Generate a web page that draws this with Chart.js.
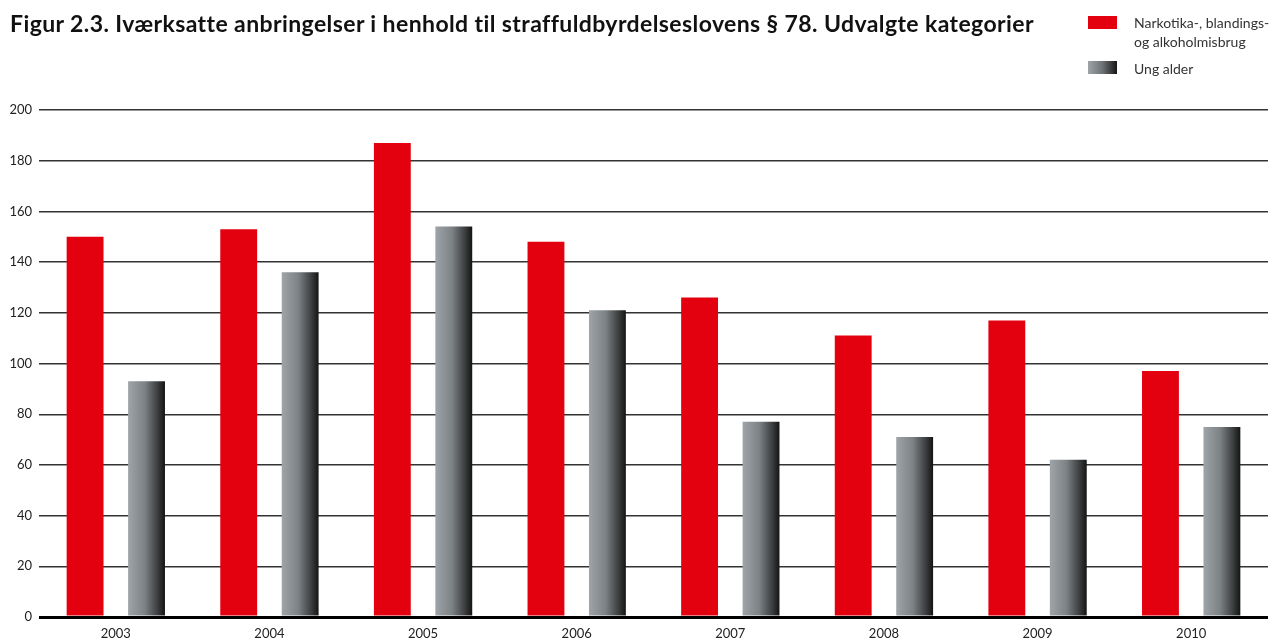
<!DOCTYPE html>
<html>
<head>
<meta charset="utf-8">
<script src="https://cdn.jsdelivr.net/npm/chart.js@4/dist/chart.umd.min.js"></script>
<style>
  html, body { margin: 0; padding: 0; background: #fff; }
  #wrap { position: relative; width: 1272px; height: 641px; overflow: hidden; }
  #title { position: absolute; left: 10px; top: 9px; font-family: Lato, "Open Sans", sans-serif; font-weight: bold; font-size: 23px; letter-spacing: 0.4px; color: #111; white-space: nowrap; }
  .leg { position: absolute; font-family: Lato, "Noto Sans", sans-serif; font-size: 14px; color: #333; line-height: 19px; }
  .box { position: absolute; width: 29px; height: 13px; }
  canvas { position: absolute; left: 0; top: 0; }
</style>
</head>
<body>
<div id="wrap">
  <canvas id="c" width="1272" height="641"></canvas>
  <div id="title">Figur 2.3. Iværksatte anbringelser i henhold til straffuldbyrdelseslovens § 78. Udvalgte kategorier</div>
  <div class="box" style="left:1088px; top:16px; background:#e3000f;"></div>
  <div class="leg" style="left:1134px; top:13px;">Narkotika-, blandings-<br>og alkoholmisbrug</div>
  <div class="box" style="left:1088px; top:61px; background:linear-gradient(to right,#9ea4a8,#6e7275 50%,#161616);"></div>
  <div class="leg" style="left:1134px; top:59px;">Ung alder</div>
</div>
<script>
const categories = ['2003', '2004', '2005', '2006', '2007', '2008', '2009', '2010'];
const seriesNames = ['Narkotika-, blandings- og alkoholmisbrug', 'Ung alder'];
const narkotika = [150, 153, 187, 148, 126, 111, 117, 97];
const ungAlder = [93, 136, 154, 121, 77, 71, 62, 75];
const yTicks = [0, 20, 40, 60, 80, 100, 120, 140, 160, 180, 200];

function grayGradient(c) {
  const chart = c.chart;
  const xs = chart.scales && chart.scales.x;
  if (!xs || c.type !== 'data' || !xs.width) return '#707070';
  const cw = xs.width / categories.length;
  const slot = cw * 0.8 / 2;
  const bw = slot * 0.6;
  const cx = xs.getPixelForValue(c.dataIndex) + slot / 2;
  const g = chart.ctx.createLinearGradient(cx - bw / 2, 0, cx + bw / 2, 0);
  g.addColorStop(0, '#9ea4a8');
  g.addColorStop(0.45, '#7d8285');
  g.addColorStop(0.8, '#3c3e3f');
  g.addColorStop(1, '#141414');
  return g;
}

new Chart(document.getElementById('c'), {
  type: 'bar',
  data: {
    labels: categories,
    datasets: [
      { label: seriesNames[0], data: narkotika, backgroundColor: '#e3000f', categoryPercentage: 0.8, barPercentage: 0.6 },
      { label: seriesNames[1], data: ungAlder, backgroundColor: grayGradient, categoryPercentage: 0.8, barPercentage: 0.6 }
    ]
  },
  options: {
    responsive: false,
    animation: false,
    layout: { padding: { top: 110, right: 4, left: 0, bottom: 0 } },
    plugins: { legend: { display: false }, title: { display: false }, tooltip: { enabled: false } },
    scales: {
      x: {
        grid: { display: false, drawTicks: false },
        border: { display: false },
        ticks: { color: '#222', font: { family: 'Lato, "Noto Sans", sans-serif', size: 13 }, padding: 9, maxRotation: 0 },
        afterFit: (s) => { s.height = 24; }
      },
      y: {
        min: 0, max: 200,
        afterBuildTicks: (s) => { s.ticks = yTicks.map(v => ({ value: v })); },
        grid: {
          drawTicks: false,
          color: (c) => c.tick && c.tick.value === 0 ? '#000' : '#333',
          lineWidth: (c) => c.tick && c.tick.value === 0 ? 3 : 1.4
        },
        border: { display: false },
        ticks: { color: '#222', font: { family: 'Lato, "Noto Sans", sans-serif', size: 13 }, padding: 7 },
        afterFit: (s) => { s.width = 39; }
      }
    }
  }
});
</script>
</body>
</html>
